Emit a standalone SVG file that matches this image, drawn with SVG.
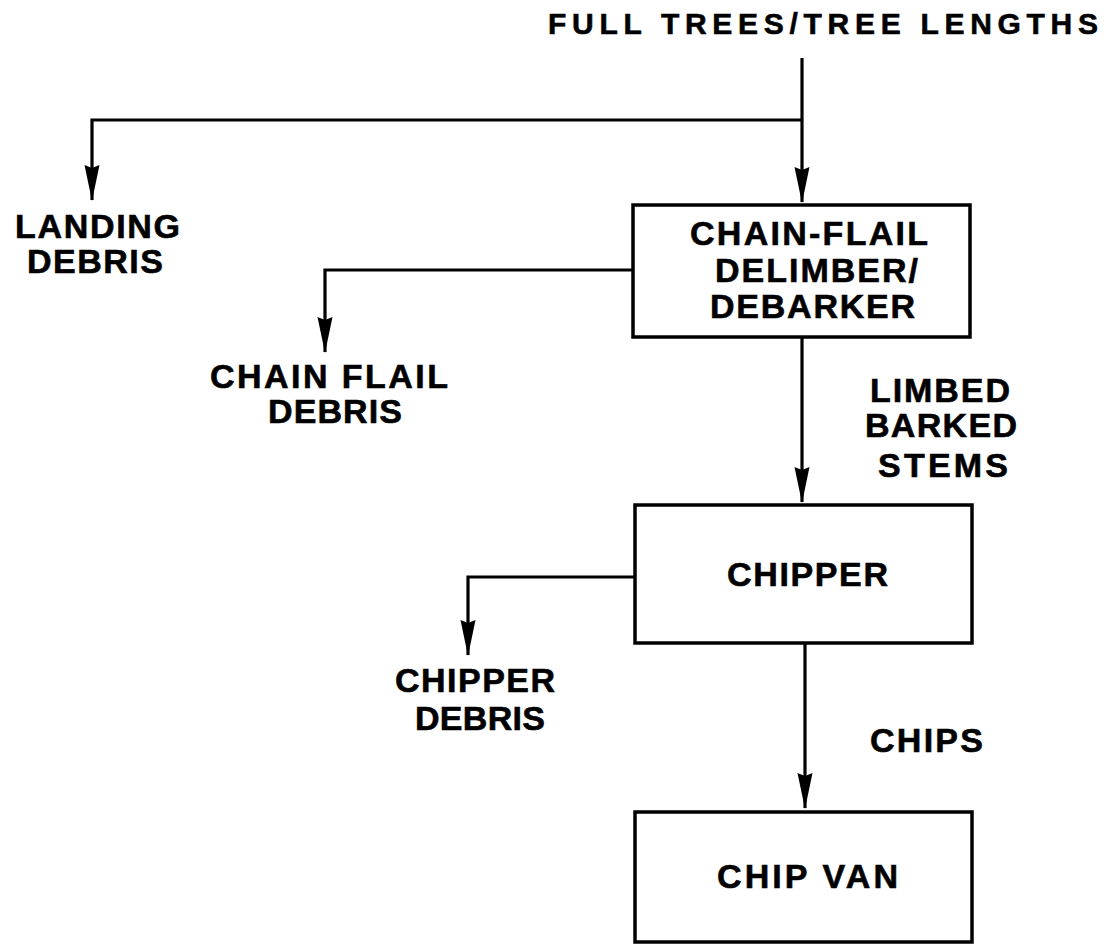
<svg xmlns="http://www.w3.org/2000/svg" width="1107" height="945" viewBox="0 0 1107 945">
<style>
.t{font-family:"Liberation Sans",Arial,Helvetica,sans-serif;font-weight:bold;font-size:34px;fill:#000;stroke:#000;stroke-width:0.6}
.title{font-size:30px}
.box{fill:none;stroke:#000;stroke-width:3.5}
.ln{fill:none;stroke:#000;stroke-width:3.2}
</style>
<defs>
<marker id="arr" markerUnits="userSpaceOnUse" markerWidth="36" markerHeight="18" viewBox="0 0 36 18" refX="35" refY="9" orient="auto">
<path d="M0,1.5 L36,9 L0,16.5 L3,9 Z" fill="#000"/>
</marker>
</defs>
<rect width="1107" height="945" fill="#fff"/>
<g id="connectors">
<path class="ln" d="M802,58 V202" marker-end="url(#arr)"/>
<path class="ln" d="M802,120 H92 V200" marker-end="url(#arr)"/>
<path class="ln" d="M633,270 H325 V352" marker-end="url(#arr)"/>
<path class="ln" d="M802,337 V502" marker-end="url(#arr)"/>
<path class="ln" d="M635,577 H468 V655" marker-end="url(#arr)"/>
<path class="ln" d="M805,643 V808" marker-end="url(#arr)"/>
</g>
<g id="title"><text class="t title" x="548" y="34" textLength="550" lengthAdjust="spacing">FULL TREES/TREE LENGTHS</text></g>
<g id="landing-debris">
<text class="t" x="15" y="238" textLength="165" lengthAdjust="spacing">LANDING</text>
<text class="t" x="27" y="273" textLength="136" lengthAdjust="spacing">DEBRIS</text>
</g>
<g id="chain-flail-debris">
<text class="t" x="210" y="388" textLength="238" lengthAdjust="spacing">CHAIN FLAIL</text>
<text class="t" x="268" y="423" textLength="134" lengthAdjust="spacing">DEBRIS</text>
</g>
<g id="delimber">
<rect class="box" x="633" y="205" width="337" height="132"/>
<text class="t" x="690" y="245" textLength="238" lengthAdjust="spacing">CHAIN-FLAIL</text>
<text class="t" x="715" y="282" textLength="203" lengthAdjust="spacing">DELIMBER/</text>
<text class="t" x="710" y="318" textLength="205" lengthAdjust="spacing">DEBARKER</text>
</g>
<g id="stems-label">
<text class="t" x="870" y="402" textLength="140" lengthAdjust="spacing">LIMBED</text>
<text class="t" x="865" y="437" textLength="152" lengthAdjust="spacing">BARKED</text>
<text class="t" x="878" y="477" textLength="130" lengthAdjust="spacing">STEMS</text>
</g>
<g id="chipper">
<rect class="box" x="635" y="505" width="337" height="138"/>
<text class="t" x="727" y="586" textLength="161" lengthAdjust="spacing">CHIPPER</text>
</g>
<g id="chipper-debris">
<text class="t" x="395" y="692" textLength="160" lengthAdjust="spacing">CHIPPER</text>
<text class="t" x="415" y="730" textLength="130" lengthAdjust="spacing">DEBRIS</text>
</g>
<g id="chips-label"><text class="t" x="870" y="752" textLength="113" lengthAdjust="spacing">CHIPS</text></g>
<g id="chip-van">
<rect class="box" x="635" y="812" width="337" height="130"/>
<text class="t" x="717" y="888" textLength="181" lengthAdjust="spacing">CHIP VAN</text>
</g>
</svg>
